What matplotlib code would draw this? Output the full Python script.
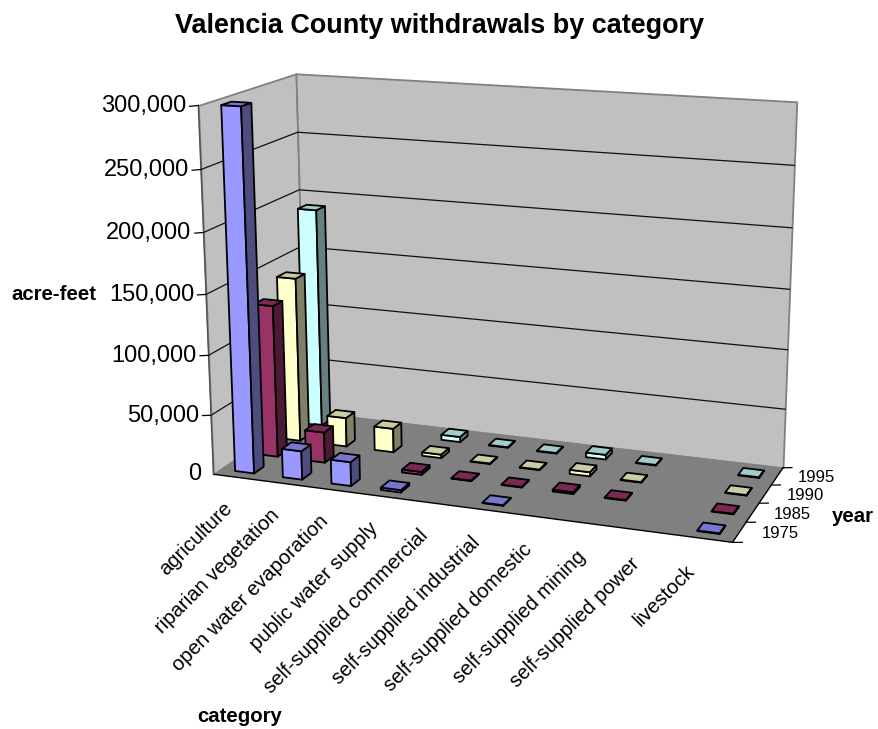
import numpy as np
import matplotlib
matplotlib.use("Agg")
import matplotlib.pyplot as plt
from mpl_toolkits.mplot3d.art3d import Poly3DCollection

plt.rcParams['font.family'] = ['Liberation Sans', 'DejaVu Sans']

# ---------- data ----------
categories = ['agriculture', 'riparian vegetation', 'open water evaporation',
              'public water supply', 'self-supplied commercial',
              'self-supplied industrial', 'self-supplied domestic',
              'self-supplied mining', 'self-supplied power', 'livestock']
years = ['1975', '1985', '1990', '1995']
values_1975 = [299000, 24000, 20000, 2000, 0, 500, 0, 0, 0, 500]
values_1985 = [129000, 26000, 0, 2500, 500, 500, 1500, 500, 0, 500]
values_1990 = [141500, 25000, 20500, 3000, 500, 500, 3500, 500, 0, 500]
values_1995 = [190500, 0, 0, 4500, 500, 500, 4000, 500, 0, 500]
z_ticks = [0, 50000, 100000, 150000, 200000, 250000, 300000]

series = [values_1975, values_1985, values_1990, values_1995]
face_colors = ['#9999FF', '#993366', '#FFFFCC', '#CCFFFF']
top_colors = ['#7777CC', '#7A2952', '#CCCCA3', '#A3CCCC']
side_colors = ['#4D4D80', '#4D1A33', '#808066', '#668080']

W, H = 879, 729
ZMAX = z_ticks[-1]
NX, NY = len(categories), len(years)

# ---------- camera calibration from the plot-box corners (pixel positions) ----------
box = [((0, 0, 0), (213, 474)), ((NX, 0, 0), (732, 543)), ((NX, NY, 0), (783, 467)),
       ((0, NY, 0), (306, 412)), ((0, 0, ZMAX), (199, 105)), ((0, NY, ZMAX), (295, 74)),
       ((NX, NY, ZMAX), (797, 102))]
rows = []
for (x, y, z), (px, py) in box:
    Y = H - py
    rows.append([x, y, z, 1, 0, 0, 0, 0, -px * x, -px * y, -px * z, -px])
    rows.append([0, 0, 0, 0, x, y, z, 1, -Y * x, -Y * y, -Y * z, -Y])
rows = np.array(rows, float)
scale = np.array([1, 1, 1 / ZMAX, 1] * 3)
_, _, vt = np.linalg.svd(rows / scale)
P = (vt[-1] / scale).reshape(3, 4)


def project(x, y, z):
    v = P @ np.array([x, y, z, 1.0])
    return v[0] / v[2], v[1] / v[2]


fig = plt.figure(figsize=(W / 100, H / 100), dpi=100, facecolor='white')
ax = fig.add_axes([0, 0, 1, 1], projection='3d')
ax.apply_aspect = lambda position=None: None
ax.computed_zorder = False
ax.set_axis_off()
ax.patch.set_visible(False)


def get_proj():
    A = ax.transData.inverted().get_matrix()
    Q = A @ P
    return np.array([Q[0], Q[1], [0, 1e-3, 1e-9, 0], Q[2]])


ax.get_proj = get_proj

WALL = '#C0C0C0'
EDGE = '#808080'
ax.add_collection3d(Poly3DCollection(
    [[(0, 0, 0), (0, NY, 0), (0, NY, ZMAX), (0, 0, ZMAX)]],
    facecolors=WALL, edgecolors=EDGE, linewidths=1.3, zorder=1))
ax.add_collection3d(Poly3DCollection(
    [[(0, NY, 0), (NX, NY, 0), (NX, NY, ZMAX), (0, NY, ZMAX)]],
    facecolors=WALL, edgecolors=EDGE, linewidths=1.3, zorder=1))

for z in z_ticks[1:-1]:
    ax.plot([0, 0, NX], [0, NY, NY], [z, z, z], color='#101010', lw=0.9, zorder=2)

ax.add_collection3d(Poly3DCollection(
    [[(0, 0, 0), (NX, 0, 0), (NX, NY, 0), (0, NY, 0)]],
    facecolors='#808080', edgecolors='none', zorder=3))
ax.plot([0, NX, NX], [0, 0, NY], [0, 0, 0], color='black', lw=1.0, zorder=4)
ax.plot([0, 0], [0, 0], [0, ZMAX], color='#505050', lw=1.0, zorder=4)

# ticks
for z in z_ticks:
    ax.plot([0, -0.18], [0, 0], [z, z - 1100], color='black', lw=0.9, zorder=4)
for i in range(NX + 1):
    ax.plot([i, i], [0, 0], [0, -7000], color='black', lw=0.9, zorder=4)
for j in range(NY + 1):
    ax.plot([NX, NX + 0.17], [j, j], [0, 1000], color='black', lw=0.9, zorder=4)

# bars
BW, BD = 0.4, 0.4
zorder = 10
for j in range(NY - 1, -1, -1):
    vals = series[j]
    for i in range(NX - 1, -1, -1):
        v = vals[i]
        if v <= 0:
            continue
        x0, x1 = i + 0.5 - BW / 2, i + 0.5 + BW / 2
        y0, y1 = j + 0.5 - BD / 2, j + 0.5 + BD / 2
        faces = [[(x0, y0, 0), (x1, y0, 0), (x1, y0, v), (x0, y0, v)],
                 [(x1, y0, 0), (x1, y1, 0), (x1, y1, v), (x1, y0, v)],
                 [(x0, y0, v), (x1, y0, v), (x1, y1, v), (x0, y1, v)]]
        ax.add_collection3d(Poly3DCollection(
            faces, facecolors=[face_colors[j], side_colors[j], top_colors[j]],
            edgecolors='black', linewidths=1.3, zorder=zorder))
        zorder += 1


def label(x, y, z, s, **kw):
    px, py = project(x, y, z)
    fig.text(px / W, py / H, s, color='black', **kw)


for z in z_ticks:
    label(-0.25, 0, z - 1400, f'{z:,}', fontsize=17, ha='right', va='center')
for i, c in enumerate(categories):
    label(i + 0.3, 0, -25000, c, fontsize=14.6, rotation=45, rotation_mode='anchor',
          ha='right', va='center')
for j, y in enumerate(years):
    label(NX + 0.39, j + 0.5, 1000, y, fontsize=12, ha='left', va='center')

fig.text(440 / W, 1 - 26 / H, 'Valencia County withdrawals by category',
         fontsize=19.45, fontweight='bold', ha='center', va='center')
fig.text(54 / W, 1 - 295 / H, 'acre-feet', fontsize=14.7, fontweight='bold', ha='center', va='center')
fig.text(240 / W, 1 - 716 / H, 'category', fontsize=14.7, fontweight='bold', ha='center', va='center')
fig.text(853 / W, 1 - 516 / H, 'year', fontsize=14.7, fontweight='bold', ha='center', va='center')

fig.savefig('out.png', dpi=100)
